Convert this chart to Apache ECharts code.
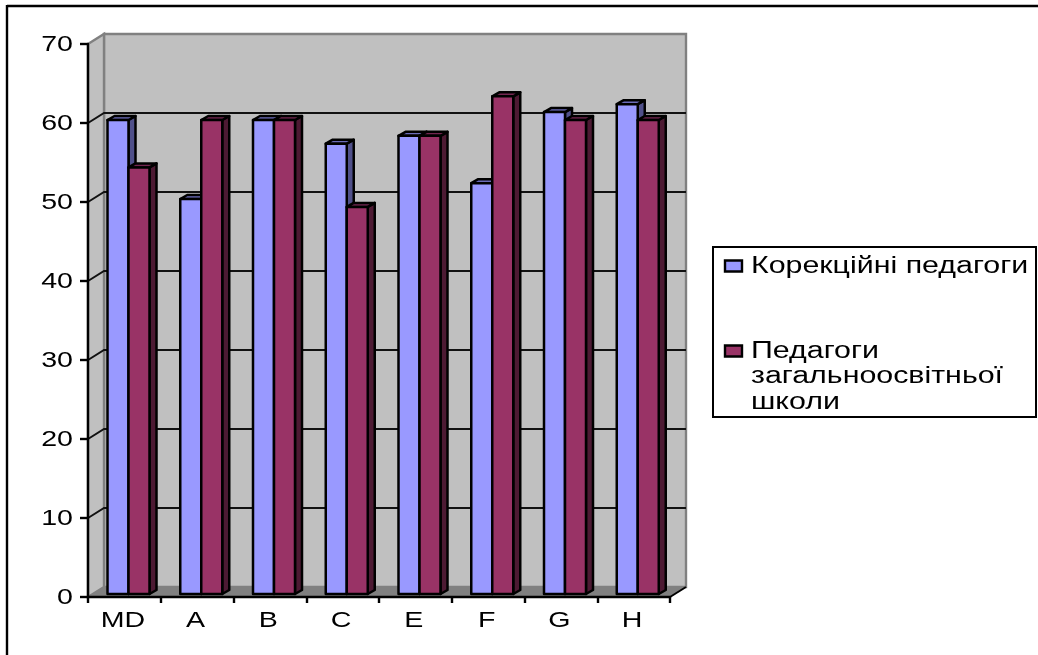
<!DOCTYPE html>
<html>
<head>
<meta charset="utf-8">
<style>html,body{margin:0;padding:0;background:#fff}#chart{width:1038px;height:655px}</style>
<script src="https://cdn.jsdelivr.net/npm/echarts@6/dist/echarts.min.js"></script>
</head>
<body>
<div id="chart"></div>
<script>
// Personality factor scores for two groups of teachers
const categories = ['MD', 'A', 'B', 'C', 'E', 'F', 'G', 'H'];
const correctionTeachers = [60, 50, 60, 57, 58, 52, 61, 62];
const schoolTeachers = [54, 60, 60, 49, 58, 63, 60, 60];
const yTicks = [0, 10, 20, 30, 40, 50, 60, 70];
const seriesNames = ['Корекційні педагоги', 'Педагоги загальноосвітньої школи'];

// Oblique projection used for the walls and the bar boxes
const WALL_DX = 16, WALL_DY = -10;
const BAR_DX = 7, BAR_DY = -4, BAR_LIFT = -3;
const BAR_W = 21, BAR_START = 19.5;
const FONT = '"Liberation Sans", Arial, sans-serif';
const AXIS_FONT = 22.5, AXIS_STRETCH = 1.27;
const LEGEND_FONT = 23, LEGEND_STRETCH = 1.32;

const chart = echarts.init(document.getElementById('chart'), null, {renderer: 'canvas'});

function wallsItem(params, api) {
  const cs = params.coordSys;
  const l = cs.x, r = cs.x + cs.width, t = cs.y, b = cs.y + cs.height;
  return {type: 'group', children: [
    {type: 'polygon', shape: {points: [[l + WALL_DX, t + WALL_DY], [r + WALL_DX, t + WALL_DY], [r + WALL_DX, b + WALL_DY], [l + WALL_DX, b + WALL_DY]]}, style: {fill: '#C0C0C0', stroke: '#808080', lineWidth: 2.4}},
    {type: 'polygon', shape: {points: [[l, t], [l + WALL_DX, t + WALL_DY], [l + WALL_DX, b + WALL_DY], [l, b]]}, style: {fill: '#C0C0C0', stroke: '#808080', lineWidth: 2.4}},
    {type: 'polygon', shape: {points: [[l, b], [l + WALL_DX, b + WALL_DY], [r + WALL_DX, b + WALL_DY], [r, b]]}, style: {fill: '#808080', stroke: '#808080', lineWidth: 1}},
    {type: 'polyline', shape: {points: [[r, b], [r + WALL_DX, b + WALL_DY]]}, style: {fill: 'none', stroke: '#000', lineWidth: 2}}
  ]};
}

function gridLineItem(params, api) {
  const cs = params.coordSys;
  const v = api.value(0);
  if (v === 0 || v === 70) return null;
  const y = api.coord([0, v])[1];
  const l = cs.x, r = cs.x + cs.width;
  return {type: 'polyline', shape: {points: [[l, y], [l + WALL_DX, y + WALL_DY], [r + WALL_DX, y + WALL_DY]]},
    style: {fill: 'none', stroke: '#111', lineWidth: 2}};
}

function barItem(slot, front, top, side) {
  return function (params, api) {
    const idx = api.value(0);
    const tick = api.coord([idx, 0])[0] - api.size([1, 0])[0] / 2;
    const x0 = tick + BAR_START + slot * BAR_W, x1 = x0 + BAR_W;
    const yT = api.coord([idx, api.value(1)])[1] + BAR_LIFT;
    const yB = api.coord([idx, 0])[1] + BAR_LIFT;
    const s = {stroke: '#000', lineWidth: 2.5, lineJoin: 'round'};
    return {type: 'group', children: [
      {type: 'polygon', shape: {points: [[x1, yT], [x1 + BAR_DX, yT + BAR_DY], [x1 + BAR_DX, yB + BAR_DY], [x1, yB]]}, style: {fill: side, ...s}},
      {type: 'polygon', shape: {points: [[x0, yT], [x0 + BAR_DX, yT + BAR_DY], [x1 + BAR_DX, yT + BAR_DY], [x1, yT]]}, style: {fill: top, ...s}},
      {type: 'polygon', shape: {points: [[x0, yT], [x1, yT], [x1, yB], [x0, yB]]}, style: {fill: front, ...s}}
    ]};
  };
}

function wideText(text, x, y, align, baseline, size) {
  return {type: 'text', x: x, y: y, scaleX: AXIS_STRETCH, silent: true,
    style: {text: text, x: 0, y: 0, textAlign: align, textVerticalAlign: baseline, fontFamily: FONT, fontSize: size, fill: '#000'}};
}

function yLabelItem(params, api) {
  const v = api.value(0);
  return wideText(String(v), 73, api.coord([0, v])[1] + 1, 'right', 'middle', AXIS_FONT);
}

function xLabelItem(params, api) {
  const i = api.value(0);
  const p = api.coord([i, 0]);
  return wideText(categories[i], p[0] - 1.5, 632.5, 'center', 'bottom', AXIS_FONT);
}

const legendLine = (text, y) => ({type: 'text', x: 751, y: y, scaleX: LEGEND_STRETCH, z: 11,
  style: {text: text, x: 0, y: 0, textAlign: 'left', textVerticalAlign: 'bottom', fontFamily: FONT, fontSize: LEGEND_FONT, fill: '#000'}});

const schoolLines = seriesNames[1].split(' ');

chart.setOption({
  animation: false,
  backgroundColor: '#fff',
  tooltip: {show: false},
  grid: {left: 88, top: 44, width: 582, bottom: 58, containLabel: false},
  xAxis: {type: 'category', data: categories, boundaryGap: true,
    axisLine: {show: true, onZero: false, lineStyle: {color: '#000', width: 2.4}},
    axisTick: {show: true, alignWithLabel: false, length: 6, inside: false, lineStyle: {color: '#000', width: 2.4}},
    axisLabel: {show: false}, splitLine: {show: false}, z: 6},
  yAxis: {type: 'value', min: 0, max: 70, interval: 10,
    axisLine: {show: true, lineStyle: {color: '#000', width: 2.4}},
    axisTick: {show: true, length: 8, lineStyle: {color: '#000', width: 2.4}},
    axisLabel: {show: false}, splitLine: {show: false}, z: 6},
  graphic: [
    {type: 'line', shape: {x1: 7, y1: 6, x2: 1038, y2: 6}, style: {stroke: '#000', lineWidth: 2.4}},
    {type: 'line', shape: {x1: 7, y1: 5, x2: 7, y2: 655}, style: {stroke: '#000', lineWidth: 2.4}},
    {type: 'rect', shape: {x: 713, y: 247, width: 323, height: 170}, style: {fill: '#fff', stroke: '#000', lineWidth: 2}},
    {type: 'rect', shape: {x: 725, y: 260.5, width: 17, height: 11}, style: {fill: '#9999FF', stroke: '#000', lineWidth: 2.4}},
    {type: 'rect', shape: {x: 725, y: 345.5, width: 17, height: 11}, style: {fill: '#993366', stroke: '#000', lineWidth: 2.4}},
    legendLine(seriesNames[0], 278),
    legendLine(schoolLines[0], 363),
    legendLine(schoolLines[1], 388),
    legendLine(schoolLines[2], 414)
  ],
  series: [
    {type: 'custom', name: 'walls', z: 1, silent: true, renderItem: wallsItem, data: [[0]]},
    {type: 'custom', name: 'grid', z: 2, silent: true, renderItem: gridLineItem, data: yTicks.map(v => [v])},
    {type: 'custom', name: seriesNames[0], z: 3, silent: true,
     renderItem: barItem(0, '#9999FF', '#6B6BB8', '#50508A'),
     data: correctionTeachers.map((v, i) => [i, v]), encode: {x: 0, y: 1}},
    {type: 'custom', name: seriesNames[1], z: 4, silent: true,
     renderItem: barItem(1, '#993366', '#732650', '#4D1A33'),
     data: schoolTeachers.map((v, i) => [i, v]), encode: {x: 0, y: 1}},
    {type: 'custom', name: 'valueLabels', z: 7, silent: true, renderItem: yLabelItem, data: yTicks.map(v => [v])},
    {type: 'custom', name: 'categoryLabels', z: 7, silent: true, renderItem: xLabelItem, data: categories.map((c, i) => [i])}
  ]
});
</script>
</body>
</html>
